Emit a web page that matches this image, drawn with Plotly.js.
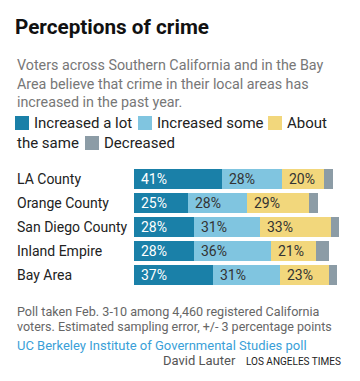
<!DOCTYPE html>
<html><head><meta charset="utf-8">
<script src="https://cdn.plot.ly/plotly-3.0.1.min.js"></script>
<style>html,body{margin:0;padding:0;background:#fff}#chart{width:360px;height:381px}</style>
</head><body><div id="chart"></div>
<script>
const regions = ["LA County","Orange County","San Diego County","Inland Empire","Bay Area"];
const increasedALot = [41,25,28,28,37];
const increasedSome = [28,28,31,36,31];
const aboutSame = [20,29,33,21,23];
const decreased = [4,4,4,6,4];
const seriesNames = ["Increased a lot","Increased some","About the same","Decreased"];
const colors = ["#1a80a8","#80c5e0","#f2d77c","#8c9ca6"];
const textColors = ["#ffffff","#333333","#333333",null];

const W=360,H=381,L=134,R=12,T=167,B=94;
const pw=W-L-R, ph=H-T-B;
const px=x=>(x-L)/pw, py=y=>(H-B-y)/ph;
const FONT='Roboto, "Liberation Sans", Arial, sans-serif';

const series=[increasedALot,increasedSome,aboutSame,decreased];
const traces=series.map((vals,i)=>({
  type:'bar',orientation:'h',x:vals,y:regions,name:seriesNames[i],
  marker:{color:colors[i],line:{width:0}},hoverinfo:'skip',showlegend:false
}));

const annotations=[];
const shapes=[];
regions.forEach((r,j)=>{
  let cum=0;
  series.forEach((vals,i)=>{
    if(textColors[i]){
      annotations.push({xref:'x',yref:'y',x:cum,y:r,text:vals[j]+'%',showarrow:false,
        xanchor:'left',yanchor:'middle',xshift:5,font:{family:FONT,size:14,color:textColors[i]}});
    }
    cum+=vals[j];
  });
  annotations.push({xref:'paper',yref:'y',x:px(15),y:r,text:r,showarrow:false,xanchor:'left',yanchor:'middle',
    font:{family:FONT,size:14,color:'#222'}});
});
const sub=["Voters across Southern California and in the Bay","Area believe that crime in their local areas has","increased in the past year."];
sub.forEach((s,k)=>annotations.push({xref:'paper',yref:'paper',x:px(15),y:py(65+k*18.5),text:s,showarrow:false,
  xanchor:'left',yanchor:'middle',font:{family:FONT,size:14.3,color:'#777'}}));
const leg=[
  {sq:15,tx:32,y:123,text:"Increased a lot",c:0},
  {sq:138,tx:155,y:123,text:"Increased some",c:1},
  {sq:268,tx:285,y:123,text:"About",c:2},
  {sq:null,tx:15,y:143,text:"the same",c:2},
  {sq:85,tx:102,y:143,text:"Decreased",c:3}
];
leg.forEach(o=>{
  if(o.sq!==null){
    shapes.push({type:'rect',xref:'paper',yref:'paper',x0:px(o.sq),x1:px(o.sq+14),y0:py(o.y+7),y1:py(o.y-7),
      fillcolor:colors[o.c],line:{width:0}});
  }
  annotations.push({xref:'paper',yref:'paper',x:px(o.tx),y:py(o.y),text:o.text,showarrow:false,xanchor:'left',yanchor:'middle',
    font:{family:FONT,size:15,color:'#222'}});
});
annotations.push({xref:'paper',yref:'paper',x:px(15),y:py(311),text:"Poll taken Feb. 3-10 among 4,460 registered California",showarrow:false,xanchor:'left',yanchor:'middle',font:{family:FONT,size:12.6,color:'#666'}});
annotations.push({xref:'paper',yref:'paper',x:px(15),y:py(326),text:"voters. Estimated sampling error, +/- 3 percentage points",showarrow:false,xanchor:'left',yanchor:'middle',font:{family:FONT,size:12.5,color:'#666'}});
annotations.push({xref:'paper',yref:'paper',x:px(15),y:py(345),text:"UC Berkeley Institute of Governmental Studies poll",showarrow:false,xanchor:'left',yanchor:'middle',font:{family:FONT,size:13,color:'#3a9fd8'}});
annotations.push({xref:'paper',yref:'paper',x:px(238),y:py(360),text:"David Lauter",showarrow:false,xanchor:'right',yanchor:'middle',font:{family:FONT,size:13,color:'#555'}});
annotations.push({xref:'paper',yref:'paper',x:px(244),y:py(361),text:"LOS ANGELES TIMES",showarrow:false,xanchor:'left',yanchor:'middle',font:{family:FONT,size:10,color:'#222'}});

const layout={
  width:W,height:H,margin:{l:L,r:R,t:T,b:B,pad:0},
  paper_bgcolor:'#fff',plot_bgcolor:'#fff',barmode:'stack',bargap:4/24,
  title:{text:'<b>Perceptions of crime</b>',x:15/W,xanchor:'left',xref:'container',y:1-27/H,yref:'container',yanchor:'middle',
    font:{family:FONT,size:20.7,color:'#111'}},
  xaxis:{range:[0,100],visible:false,fixedrange:true},
  yaxis:{autorange:'reversed',visible:false,fixedrange:true},
  annotations:annotations,shapes:shapes,showlegend:false
};
Plotly.newPlot('chart',traces,layout,{staticPlot:true,displayModeBar:false});
</script></body></html>
